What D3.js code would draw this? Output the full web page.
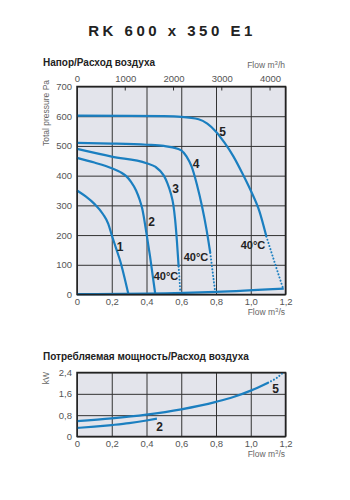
<!DOCTYPE html>
<html lang="ru">
<head>
<meta charset="UTF-8">
<title>RK 600 x 350 E1</title>
<script src="https://d3js.org/d3.v7.min.js"></script>
<style>
  body { margin: 0; background: #fff; font-family: "Liberation Sans", Arial, sans-serif; }
  .tick text { fill: #555; font-size: 9.5px; font-family: "Liberation Sans", Arial, sans-serif; }
  .grid line { stroke: #333; stroke-width: 1; }
  .grid .domain { display: none; }
  .title { font-size: 15px; font-weight: bold; fill: #222; letter-spacing: 3.5px; }
  .subtitle { font-size: 10px; font-weight: bold; fill: #222; }
  .unit { font-size: 8.5px; fill: #666; }
  .curve { fill: none; stroke: #1b7fc0; stroke-width: 2.2; }
  .dotted { fill: none; stroke: #1b7fc0; stroke-width: 2; stroke-dasharray: 0.1 3.2; stroke-linecap: round; }
  .num { font-size: 12px; font-weight: bold; fill: #222; text-anchor: middle; }
  .temp { font-size: 11px; font-weight: bold; fill: #222; text-anchor: middle; }
</style>
</head>
<body>
<svg width="350" height="500"></svg>
<script>
// ticks
const flowTicks = [0, 0.2, 0.4, 0.6, 0.8, 1.0, 1.2];
const pressureTicks = [0, 100, 200, 300, 400, 500, 600, 700];
const hourTicks = [0, 1000, 2000, 3000, 4000];
const powerTicks = [0, 0.8, 1.6, 2.4];

// pressure curves [flow m3/s, Pa]
const curve1 = [[0, 350], [0.05, 330], [0.1, 305], [0.15, 270], [0.18, 238], [0.2, 200], [0.225, 155], [0.25, 110], [0.27, 65], [0.295, 3]];
const curve2 = [[0, 460], [0.1, 444], [0.2, 425], [0.25, 412], [0.28, 400], [0.31, 380], [0.34, 350], [0.36, 320], [0.375, 290], [0.4, 205], [0.42, 130], [0.45, 3]];
const curve3 = [[0, 490], [0.2, 464], [0.4, 442], [0.45, 430], [0.5, 400], [0.52, 375], [0.54, 340], [0.555, 300], [0.565, 250], [0.575, 180], [0.585, 94]];
const curve3Hot = [[0.585, 94], [0.59, 50], [0.595, 3]];
const curve4 = [[0, 510], [0.2, 508], [0.4, 504], [0.5, 500], [0.55, 495], [0.6, 485], [0.63, 465], [0.66, 430], [0.69, 370], [0.72, 295], [0.745, 220], [0.767, 140]];
const curve4Hot = [[0.767, 140], [0.78, 80], [0.795, 10]];
const curve5 = [[0, 602], [0.3, 601], [0.5, 600], [0.6, 598], [0.7, 590], [0.75, 575], [0.8, 548], [0.85, 510], [0.9, 465], [0.95, 410], [1.0, 350], [1.05, 280], [1.09, 195]];
const curve5Hot = [[1.09, 195], [1.12, 140], [1.15, 85], [1.185, 22]];
const systemLine = [[0, 1], [0.4, 3], [0.8, 9], [1.19, 20]];

// power curves [flow m3/s, kW]
const power2 = [[0, 0.32], [0.1, 0.37], [0.2, 0.43], [0.3, 0.5], [0.4, 0.6], [0.46, 0.67]];
const power5 = [[0, 0.58], [0.2, 0.68], [0.4, 0.82], [0.6, 1.02], [0.8, 1.3], [0.9, 1.48], [1.0, 1.72], [1.1, 2.02]];
const power5Hot = [[1.1, 2.02], [1.15, 2.2], [1.19, 2.42]];

const svg = d3.select("svg");
const comma = d => d === 0 ? "0" : d3.format(".1f")(d).replace(".", ",");

svg.append("text").attr("class", "title")
  .attr("x", 172).attr("y", 36).attr("text-anchor", "middle")
  .text("RK 600 x 350 E1");

// ---------- pressure chart ----------
const x = d3.scaleLinear().domain([0, 1.2]).range([77, 285.5]);
const y = d3.scaleLinear().domain([0, 700]).range([294.5, 86.5]);
const xh = d3.scaleLinear().domain([0, 1.2 * 3600]).range([77, 285.5]);

svg.append("text").attr("class", "subtitle").attr("x", 43).attr("y", 65.5).text("Напор/Расход воздуха");
svg.append("text").attr("class", "unit").attr("x", 285).attr("y", 68).attr("text-anchor", "end")
  .html("Flow m<tspan dy='-3' font-size='6'>3</tspan><tspan dy='3'>/h</tspan>");

svg.append("rect").attr("x", x(0)).attr("y", y(700))
  .attr("width", x(1.2) - x(0)).attr("height", y(0) - y(700)).attr("fill", "#e3e4eb");

svg.append("g").attr("class", "grid")
  .attr("transform", `translate(0,${y(0)})`)
  .call(d3.axisBottom(x).tickValues(flowTicks).tickSize(-(y(0) - y(700))).tickFormat(""));
svg.append("g").attr("class", "grid")
  .attr("transform", `translate(${x(0)},0)`)
  .call(d3.axisLeft(y).tickValues(pressureTicks).tickSize(-(x(1.2) - x(0))).tickFormat(""));

// m3/h axis with inner ticks
const topAxis = svg.append("g").attr("transform", `translate(0,${y(700)})`)
  .call(d3.axisTop(xh).tickValues(hourTicks).tickSize(0).tickPadding(5).tickFormat(d3.format("d")));
topAxis.select(".domain").remove();
svg.append("g").selectAll("line").data(hourTicks.slice(1)).join("line")
  .attr("x1", d => xh(d)).attr("x2", d => xh(d))
  .attr("y1", y(700)).attr("y2", y(700) + 4)
  .attr("stroke", "#333").attr("stroke-width", 1);

const bottomAxis = svg.append("g").attr("transform", `translate(0,${y(0)})`)
  .call(d3.axisBottom(x).tickValues(flowTicks).tickSize(0).tickPadding(4).tickFormat(comma));
bottomAxis.select(".domain").remove();
const leftAxis = svg.append("g").attr("transform", `translate(${x(0)},0)`)
  .call(d3.axisLeft(y).tickValues(pressureTicks).tickSize(0).tickPadding(5));
leftAxis.select(".domain").remove();

svg.append("text").attr("class", "unit")
  .attr("transform", `translate(49,113) rotate(-90)`).attr("text-anchor", "middle")
  .attr("font-size", "8px").text("Total pressure Pa");
svg.append("text").attr("class", "unit").attr("x", 285).attr("y", 315).attr("text-anchor", "end")
  .html("Flow m<tspan dy='-3' font-size='6'>3</tspan><tspan dy='3'>/s</tspan>");

const line = d3.line().x(d => x(d[0])).y(d => y(d[1])).curve(d3.curveMonotoneX);
[curve1, curve2, curve3, curve4, curve5, systemLine].forEach(c =>
  svg.append("path").attr("class", "curve").attr("d", line(c)));
[curve3Hot, curve4Hot, curve5Hot].forEach(c =>
  svg.append("path").attr("class", "dotted").attr("d", line(c)));

svg.append("rect").attr("x", x(0)).attr("y", y(700))
  .attr("width", x(1.2) - x(0)).attr("height", y(0) - y(700))
  .attr("fill", "none").attr("stroke", "#222").attr("stroke-width", 1.5);

const numLabels = [["1", 120, 251], ["2", 151.5, 226], ["3", 175.5, 193], ["4", 196, 167.5], ["5", 222.5, 135.5]];
svg.selectAll(".num.top").data(numLabels).join("text").attr("class", "num top")
  .attr("x", d => d[1]).attr("y", d => d[2]).text(d => d[0]);
const tempLabels = [[166, 280], [196, 261], [253, 248.5]];
svg.selectAll(".temp").data(tempLabels).join("text").attr("class", "temp")
  .attr("x", d => d[0]).attr("y", d => d[1]).text("40°C");

// ---------- power chart ----------
const y2 = d3.scaleLinear().domain([0, 2.4]).range([436.5, 372.5]);

svg.append("text").attr("class", "subtitle").attr("x", 43).attr("y", 359.5).text("Потребляемая мощность/Расход воздуха");

svg.append("rect").attr("x", x(0)).attr("y", y2(2.4))
  .attr("width", x(1.2) - x(0)).attr("height", y2(0) - y2(2.4)).attr("fill", "#e3e4eb");
svg.append("g").attr("class", "grid")
  .attr("transform", `translate(0,${y2(0)})`)
  .call(d3.axisBottom(x).tickValues(flowTicks).tickSize(-(y2(0) - y2(2.4))).tickFormat(""));
svg.append("g").attr("class", "grid")
  .attr("transform", `translate(${x(0)},0)`)
  .call(d3.axisLeft(y2).tickValues(powerTicks).tickSize(-(x(1.2) - x(0))).tickFormat(""));

const bottomAxis2 = svg.append("g").attr("transform", `translate(0,${y2(0)})`)
  .call(d3.axisBottom(x).tickValues(flowTicks).tickSize(0).tickPadding(4).tickFormat(comma));
bottomAxis2.select(".domain").remove();
const leftAxis2 = svg.append("g").attr("transform", `translate(${x(0)},0)`)
  .call(d3.axisLeft(y2).tickValues(powerTicks).tickSize(0).tickPadding(5).tickFormat(comma));
leftAxis2.select(".domain").remove();

svg.append("text").attr("class", "unit")
  .attr("transform", `translate(49,378) rotate(-90)`).attr("text-anchor", "middle")
  .attr("font-size", "8px").text("kW");
svg.append("text").attr("class", "unit").attr("x", 285).attr("y", 457).attr("text-anchor", "end")
  .html("Flow m<tspan dy='-3' font-size='6'>3</tspan><tspan dy='3'>/s</tspan>");

const line2 = d3.line().x(d => x(d[0])).y(d => y2(d[1])).curve(d3.curveMonotoneX);
[power2, power5].forEach(c => svg.append("path").attr("class", "curve").attr("d", line2(c)));
svg.append("path").attr("class", "dotted").attr("d", line2(power5Hot));

svg.append("rect").attr("x", x(0)).attr("y", y2(2.4))
  .attr("width", x(1.2) - x(0)).attr("height", y2(0) - y2(2.4))
  .attr("fill", "none").attr("stroke", "#222").attr("stroke-width", 1.5);

const numLabels2 = [["2", 159.5, 430.5], ["5", 275.5, 392.5]];
svg.selectAll(".num.bottom").data(numLabels2).join("text").attr("class", "num bottom")
  .attr("x", d => d[1]).attr("y", d => d[2]).text(d => d[0]);
</script>
</body>
</html>
